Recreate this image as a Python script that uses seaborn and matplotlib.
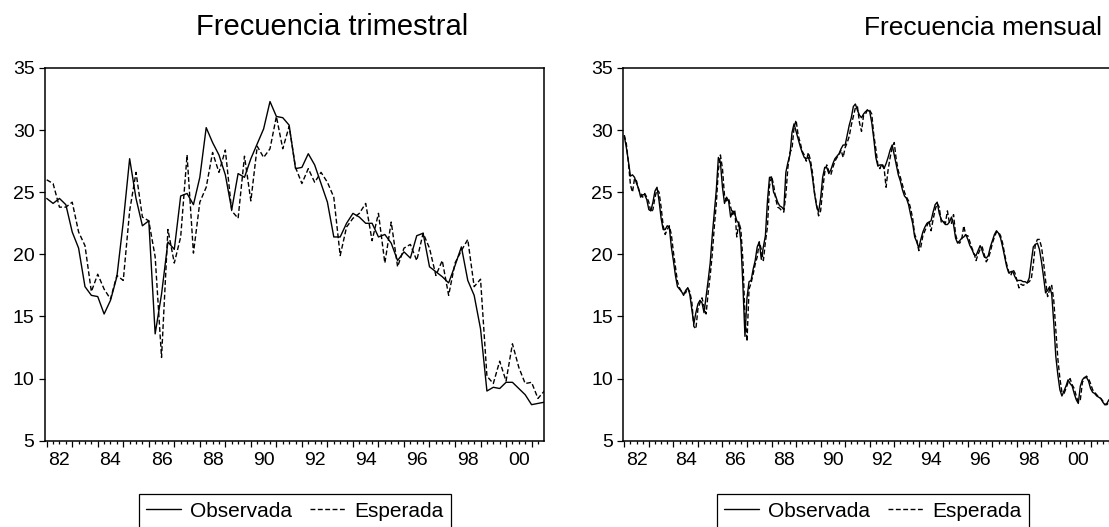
import numpy as np
import pandas as pd
import seaborn as sns
import matplotlib.pyplot as plt
from matplotlib.ticker import MultipleLocator, NullLocator

# Data
quarter_obs = [24.5, 24.1, 24.5, 24.0,
               21.8, 20.5, 17.4, 16.7,
               16.6, 15.2, 16.3, 18.2,
               22.6, 27.7, 24.5, 22.3,
               22.7, 13.6, 16.8, 21.0,
               20.4, 24.7, 24.9, 24.0,
               26.2, 30.2, 29.0, 28.0,
               26.4, 23.6, 26.5, 26.2,
               27.7, 28.9, 30.1, 32.3,
               31.1, 31.0, 30.4, 26.9,
               27.0, 28.1, 27.2, 25.7,
               24.2, 21.4, 21.4, 22.5,
               23.3, 23.0, 22.5, 22.5,
               21.4, 21.6, 20.9, 19.5,
               20.2, 19.7, 21.5, 21.7,
               19.0, 18.6, 18.2, 17.7,
               19.1, 20.6, 17.9, 16.7,
               14.0, 9.0, 9.3, 9.2,
               9.7, 9.7, 9.2, 8.7,
               7.9, 8.0, 8.1]
quarter_exp = [26.0, 25.7, 23.8, 23.8,
               24.2, 21.8, 20.7, 17.0,
               18.4, 17.2, 16.4, 18.3,
               17.9, 23.5, 26.6, 23.0,
               22.7, 19.8, 11.7, 22.0,
               19.3, 21.4, 28.0, 20.1,
               24.2, 25.4, 28.2, 26.6,
               28.4, 23.5, 22.9, 27.9,
               24.3, 28.7, 27.8, 28.5,
               31.1, 28.5, 30.3, 27.0,
               25.7, 26.9, 25.8, 26.6,
               25.8, 24.6, 19.9, 22.2,
               22.9, 23.3, 24.1, 21.1,
               23.3, 19.3, 22.6, 19.0,
               20.5, 20.8, 19.5, 21.7,
               20.5, 18.3, 19.5, 16.7,
               19.3, 20.3, 21.2, 17.4,
               18.0, 10.2, 9.6, 11.4,
               9.8, 12.8, 10.9, 9.6,
               9.7, 8.4, 9.0]

month_obs = [29.5, 28.6, 27.5, 26.3, 26.4, 26.2, 25.7, 25.3, 24.6, 24.8, 24.8, 24.4,
             23.6, 23.5, 24.2, 25.1, 25.4, 24.3, 22.9, 22.0, 22.0, 22.3, 22.2, 20.6,
             19.5, 18.3, 17.4, 17.2, 17.0, 16.7, 17.1, 17.3, 16.8, 15.6, 14.4, 15.3,
             16.0, 16.3, 16.1, 15.3, 16.6, 17.9, 19.3, 21.5, 23.4, 25.2, 27.8, 27.4,
             25.4, 24.1, 24.6, 24.3, 23.0, 23.5, 23.3, 22.7, 22.5, 21.0, 17.5, 13.4,
             16.5, 17.8, 17.9, 18.8, 19.5, 20.6, 21.0, 19.6, 20.6, 21.5, 24.3, 26.2,
             26.2, 25.0, 24.7, 24.2, 23.9, 23.8, 23.6, 26.6, 27.4, 28.0, 29.8, 30.5,
             29.9, 29.3, 28.7, 28.2, 27.8, 27.7, 27.8, 27.3, 26.2, 24.9, 23.9, 23.4,
             24.5, 26.2, 27.0, 27.0, 26.5, 26.8, 27.3, 27.7, 27.9, 28.1, 28.5, 28.8,
             28.8, 29.6, 30.4, 31.0, 31.9, 32.1, 31.6, 31.2, 31.0, 31.3, 31.5, 31.6,
             31.5, 30.6, 29.3, 27.8, 27.1, 27.2, 27.2, 26.9, 27.3, 27.8, 28.4, 28.8,
             28.0, 27.2, 26.4, 25.9, 25.2, 24.7, 24.5, 24.0, 23.2, 22.5, 21.4, 21.0,
             20.5, 21.2, 21.8, 22.2, 22.5, 22.6, 22.7, 23.4, 24.0, 24.2, 23.3, 22.8,
             22.6, 22.4, 22.4, 22.6, 23.0, 22.4, 21.3, 20.9, 21.1, 21.3, 21.4, 21.6,
             21.2, 20.7, 20.4, 20.0, 19.9, 20.3, 20.7, 20.3, 19.8, 19.7, 19.9, 20.6,
             21.1, 21.6, 21.9, 21.7, 21.3, 20.6, 19.8, 19.0, 18.5, 18.6, 18.6, 18.2,
             17.9, 17.9, 17.9, 17.8, 17.8, 17.7, 18.1, 19.4, 20.6, 20.8, 20.9, 20.4,
             19.4, 18.2, 16.9, 17.1, 17.4, 16.8, 14.5, 11.8, 10.3, 9.1, 8.6, 9.0,
             9.4, 9.9, 9.6, 9.4, 8.8, 8.3, 8.0, 9.4, 9.9, 10.1, 10.1, 9.8,
             9.2, 8.9, 8.8, 8.6, 8.5, 8.4, 8.1, 7.9, 8.0, 8.3]
month_exp = [29.6, 28.9, 27.4, 25.6, 25.0, 26.1, 25.9, 25.2, 24.9, 24.6, 24.9, 24.6,
             24.2, 23.4, 23.6, 24.6, 25.2, 25.0, 23.8, 22.3, 21.6, 22.0, 22.3, 21.6,
             20.2, 19.0, 17.8, 17.3, 17.0, 16.9, 16.9, 17.3, 17.0, 16.2, 14.2, 14.0,
             15.6, 16.1, 16.5, 15.8, 15.2, 16.9, 18.3, 20.0, 22.2, 24.1, 26.8, 28.0,
             26.9, 24.7, 24.3, 24.5, 23.8, 23.2, 23.6, 21.4, 22.6, 22.0, 19.5, 15.0,
             13.0, 17.2, 17.7, 18.4, 19.2, 19.8, 21.0, 20.4, 19.5, 21.0, 22.2, 25.5,
             26.3, 25.6, 24.5, 23.8, 23.7, 23.5, 23.4, 24.8, 27.0, 28.2, 28.5, 30.2,
             30.8, 29.6, 29.0, 28.3, 28.0, 27.5, 28.2, 27.6, 26.6, 25.0, 24.0, 23.1,
             23.5, 25.2, 26.6, 27.2, 26.7, 26.4, 27.0, 27.5, 27.8, 28.0, 28.4, 27.8,
             28.6, 29.0, 29.5, 30.4, 31.1, 31.8, 31.9, 30.6, 29.9, 31.2, 31.3, 31.7,
             31.6, 31.3, 29.6, 28.5, 27.2, 26.9, 27.3, 27.0, 25.4, 26.8, 27.8, 28.6,
             29.0, 27.6, 26.7, 26.2, 25.6, 25.0, 24.6, 24.3, 23.7, 22.9, 21.6, 21.2,
             20.3, 20.6, 21.5, 21.9, 22.3, 22.7, 21.9, 22.8, 23.6, 24.1, 23.8, 22.6,
             22.7, 22.5, 23.5, 22.5, 22.5, 23.2, 21.6, 21.0, 20.9, 21.2, 22.3, 21.5,
             21.5, 21.0, 20.5, 20.1, 19.5, 20.0, 20.4, 20.6, 20.0, 19.4, 19.7, 20.2,
             20.9, 21.4, 21.8, 21.8, 21.5, 20.9, 20.0, 19.2, 18.6, 18.3, 18.8, 18.5,
             17.9, 17.3, 17.6, 17.5, 17.6, 17.7, 17.8, 18.0, 19.2, 20.8, 21.2, 21.2,
             20.6, 19.4, 17.9, 16.6, 17.2, 17.5, 16.3, 14.0, 11.6, 10.0, 8.9, 8.8,
             9.2, 9.7, 10.0, 9.5, 9.2, 8.6, 8.1, 8.3, 9.7, 10.0, 10.2, 10.0,
             9.6, 9.1, 8.9, 8.7, 8.5, 8.4, 8.2, 7.9, 7.9, 8.1]

label_years = [1982, 1984, 1986, 1988, 1990, 1992, 1994, 1996, 1998, 2000]
year_labels = ["82", "84", "86", "88", "90", "92", "94", "96", "98", "00"]
titles = ["Frecuencia trimestral", "Frecuencia mensual"]
series_names = ["Observada", "Esperada"]

W, H = 1109, 527
FS_TICK = 14
FS_LEGEND = 15
FS_TITLE = 21


def decimal_time(periods):
    """Period index -> fractional year (start of period)"""
    start = periods.start_time
    return start.year + (start.month - 1) / 12


def make_frame(obs, exp, freq, first):
    periods = pd.period_range(first, periods=len(obs), freq=freq)
    return pd.DataFrame({"t": decimal_time(periods), "obs": obs, "exp": exp})


def draw_panel(ax, df, x_min, x_max):
    sns.lineplot(data=df, x="t", y="obs", ax=ax, color="black", lw=1.0,
                 label=series_names[0])
    sns.lineplot(data=df, x="t", y="exp", ax=ax, color="black", lw=1.0,
                 linestyle=(0, (3.5, 1.8)), label=series_names[1])
    ax.set_xlim(x_min, x_max)
    ax.set_ylim(5, 35)
    ax.set_yticks(range(5, 36, 5))
    ax.set_xlabel("")
    ax.set_ylabel("")
    # Year ticks (long) and quarter ticks (short), labels on a second axis
    ax.xaxis.set_major_locator(MultipleLocator(1))
    ax.xaxis.set_minor_locator(MultipleLocator(0.25))
    ax.tick_params(axis="x", which="major", length=4.3, width=0.9, labelbottom=False)
    ax.tick_params(axis="x", which="minor", length=2.3, width=0.9)
    ax.tick_params(axis="y", length=4.5, width=0.9, pad=3, labelsize=FS_TICK)
    for side in ["left", "right", "top", "bottom"]:
        ax.spines[side].set_visible(True)
        ax.spines[side].set_linewidth(1.1)
        ax.spines[side].set_color("black")
    sec = ax.secondary_xaxis("bottom")
    sec.set_xticks([y + 0.5 for y in label_years], labels=year_labels)
    sec.xaxis.set_minor_locator(NullLocator())
    sec.tick_params(length=0, pad=8, labelsize=FS_TICK)
    sec.spines["bottom"].set_visible(False)
    # Legend box under the axis
    handles, labels = ax.get_legend_handles_labels()
    leg = ax.legend(handles, labels, loc="upper center", bbox_to_anchor=(0.5, -0.1438),
                    ncol=2, frameon=True, fancybox=False, edgecolor="black",
                    framealpha=1, fontsize=FS_LEGEND, handlelength=1.68,
                    handletextpad=0.43, columnspacing=0.88, borderpad=0.35,
                    borderaxespad=0)
    leg.get_frame().set_linewidth(0.9)


sns.set_theme(style="ticks")
plt.rcParams["font.family"] = ["Liberation Sans", "DejaVu Sans"]
plt.rcParams["text.color"] = "black"
plt.rcParams["xtick.color"] = "black"
plt.rcParams["ytick.color"] = "black"

df_q = make_frame(quarter_obs, quarter_exp, "Q", "1982Q1")
df_m = make_frame(month_obs, month_exp, "M", "1982-01")

fig = plt.figure(figsize=(W / 100, H / 100), dpi=100)
fig.patch.set_facecolor("white")
ax_w = 499.3 / W
ax_h = 372.7 / H
ax_b = 1 - 440.7 / H
ax_q = fig.add_axes([45 / W, ax_b, ax_w, ax_h])
ax_m = fig.add_axes([623.3 / W, ax_b, ax_w, ax_h])

# quarterly: 25.52 px per year, monthly: 24.54 px per year
q_min = 1982 - 1.7 / 25.52
draw_panel(ax_q, df_q, q_min, q_min + 499.3 / 25.52)
m_min = 1982 - 1.0 / 24.54
draw_panel(ax_m, df_m, m_min, m_min + 499.3 / 24.54)

fig.text(332.5 / W, 1 - 35 / H, titles[0], ha="center", va="baseline", fontsize=FS_TITLE)
fig.text(983 / W, 1 - 35 / H, titles[1], ha="center", va="baseline", fontsize=19)

fig.savefig("out.png", dpi=100)
